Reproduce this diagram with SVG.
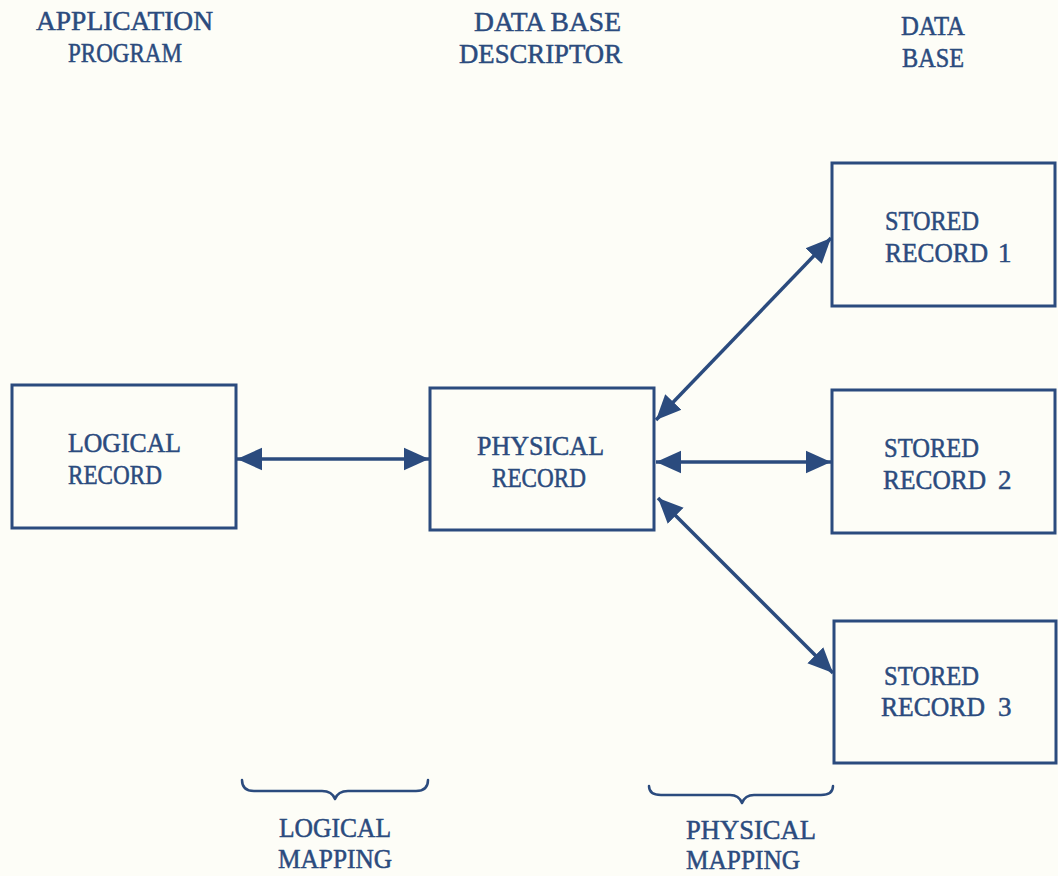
<svg xmlns="http://www.w3.org/2000/svg" width="1058" height="876" viewBox="0 0 1058 876">
<style>
text{font-family:"Liberation Serif","DejaVu Serif",serif;font-size:27px;fill:#2b4b7e;stroke:#2b4b7e;stroke-width:0.5}
.box{fill:none;stroke:#2b4b7e;stroke-width:3}
.con{fill:none;stroke:#2b4b7e;stroke-width:3.5}
.brace{fill:none;stroke:#2b4b7e;stroke-width:2.5;stroke-linecap:round;stroke-linejoin:round}
</style>
<defs>
<marker id="ah" viewBox="0 0 10 10" refX="10" refY="5" markerUnits="userSpaceOnUse" markerWidth="25" markerHeight="25" orient="auto-start-reverse">
<path d="M0,0.5 L10,5 L0,9.5 z" fill="#2b4b7e"/>
</marker>
</defs>
<rect width="1058" height="876" fill="#fdfdf7"/>
<g id="headers">
<text x="36" y="30" textLength="177" lengthAdjust="spacingAndGlyphs">APPLICATION</text>
<text x="68" y="62" textLength="114" lengthAdjust="spacingAndGlyphs">PROGRAM</text>
<text x="474" y="31" textLength="147" lengthAdjust="spacingAndGlyphs">DATA BASE</text>
<text x="459" y="63" textLength="163" lengthAdjust="spacingAndGlyphs">DESCRIPTOR</text>
<text x="901" y="35" textLength="64" lengthAdjust="spacingAndGlyphs">DATA</text>
<text x="902" y="67" textLength="62" lengthAdjust="spacingAndGlyphs">BASE</text>
</g>
<g id="logical-record">
<rect class="box" x="12" y="385" width="224" height="143"/>
<text x="68" y="452" textLength="113" lengthAdjust="spacingAndGlyphs">LOGICAL</text>
<text x="68" y="484" textLength="94" lengthAdjust="spacingAndGlyphs">RECORD</text>
</g>
<g id="physical-record">
<rect class="box" x="430" y="388" width="224" height="142"/>
<text x="477" y="455" textLength="127" lengthAdjust="spacingAndGlyphs">PHYSICAL</text>
<text x="492" y="487" textLength="94" lengthAdjust="spacingAndGlyphs">RECORD</text>
</g>
<g id="stored-record-1">
<rect class="box" x="832" y="163" width="223" height="143"/>
<text x="885" y="230" textLength="94" lengthAdjust="spacingAndGlyphs">STORED</text>
<text x="885" y="262"><tspan textLength="103" lengthAdjust="spacingAndGlyphs">RECORD</tspan><tspan x="998">1</tspan></text>
</g>
<g id="stored-record-2">
<rect class="box" x="832" y="390" width="223" height="143"/>
<text x="884" y="457" textLength="95" lengthAdjust="spacingAndGlyphs">STORED</text>
<text x="883" y="489"><tspan textLength="103" lengthAdjust="spacingAndGlyphs">RECORD</tspan><tspan x="998">2</tspan></text>
</g>
<g id="stored-record-3">
<rect class="box" x="834" y="621" width="222" height="142"/>
<text x="884" y="685" textLength="95" lengthAdjust="spacingAndGlyphs">STORED</text>
<text x="881" y="716"><tspan textLength="104" lengthAdjust="spacingAndGlyphs">RECORD</tspan><tspan x="998">3</tspan></text>
</g>
<g id="connectors">
<line class="con" x1="237" y1="459" x2="429" y2="459" marker-start="url(#ah)" marker-end="url(#ah)"/>
<line class="con" x1="656" y1="420" x2="831" y2="238" marker-start="url(#ah)" marker-end="url(#ah)"/>
<line class="con" x1="656" y1="462" x2="831" y2="462" marker-start="url(#ah)" marker-end="url(#ah)"/>
<line class="con" x1="658" y1="498" x2="833" y2="673" marker-start="url(#ah)" marker-end="url(#ah)"/>
</g>
<g id="logical-mapping">
<path class="brace" d="M242,780 Q242,791 254,791 L322,791 Q332,791 335,799 Q338,791 348,791 L416,791 Q428,791 428,780"/>
<text x="279" y="837" textLength="112" lengthAdjust="spacingAndGlyphs">LOGICAL</text>
<text x="278" y="868" textLength="114" lengthAdjust="spacingAndGlyphs">MAPPING</text>
</g>
<g id="physical-mapping">
<path class="brace" d="M649,786 Q649,795 661,795 L730,795 Q739,795 742,803 Q745,795 754,795 L821,795 Q833,795 833,786"/>
<text x="686" y="839" textLength="130" lengthAdjust="spacingAndGlyphs">PHYSICAL</text>
<text x="686" y="869" textLength="114" lengthAdjust="spacingAndGlyphs">MAPPING</text>
</g>
</svg>
